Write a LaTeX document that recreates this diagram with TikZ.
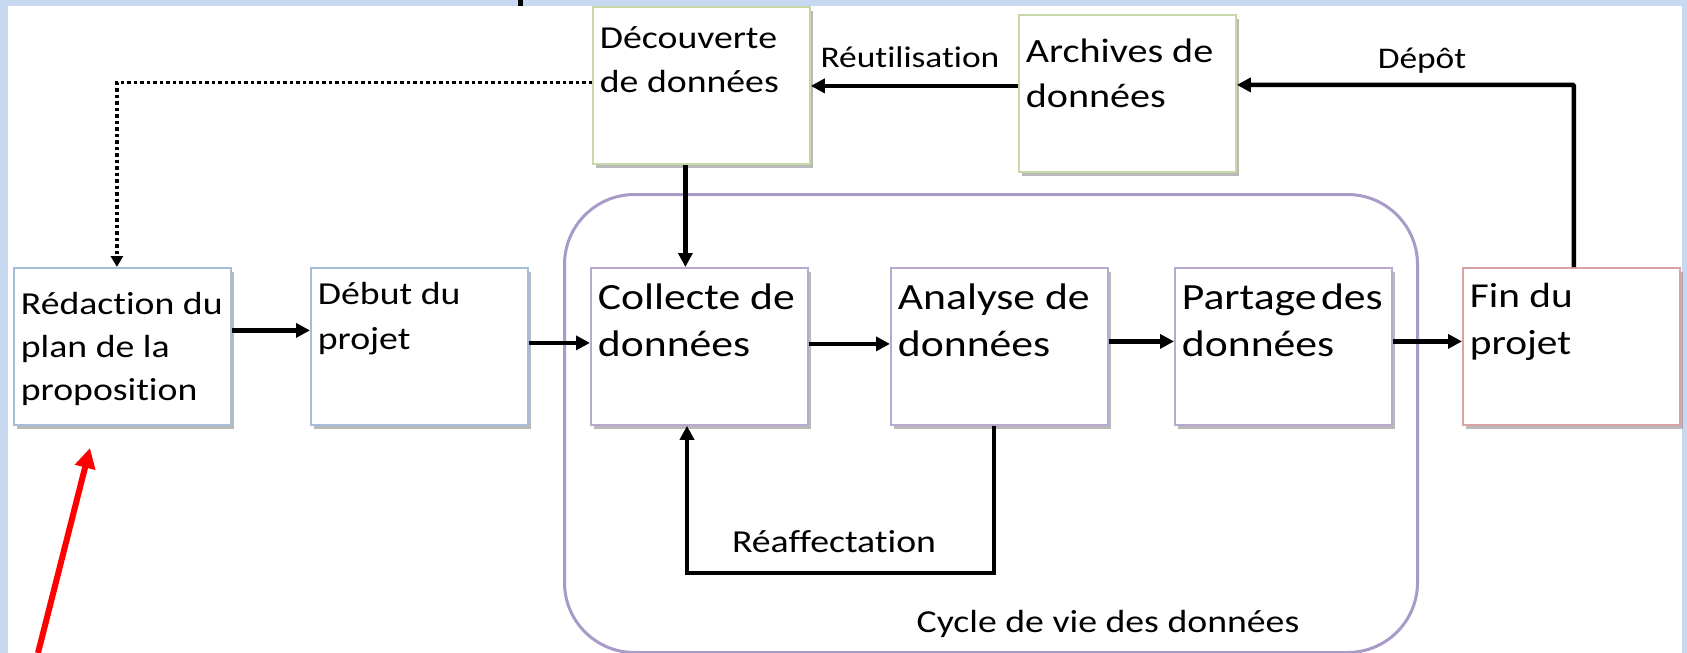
\documentclass[tikz,border=0pt]{standalone}
\usepackage{fontspec}
\setmainfont{Carlito}[FakeStretch=1.18,Ligatures=NoCommon]
\usetikzlibrary{arrows.meta,shadows}
\definecolor{bgblue}{HTML}{C6D9F1}
\definecolor{bblue}{HTML}{A6BCD8}
\definecolor{bpurp}{HTML}{B7A9CF}
\definecolor{bred}{HTML}{D9A3A3}
\definecolor{bgreen}{HTML}{C8D8A8}
\definecolor{cyc}{HTML}{A99BC8}
\newcommand\boxtxt[4]{\parbox[t][157pt][t]{203pt}{\fontsize{#1}{#2}\selectfont\raggedright\rule{0pt}{#3}#4}}
\tikzset{
  stepbox/.style={draw=#1, line width=1.8pt, fill=white, inner xsep=7pt, inner ysep=0pt,
    anchor=north west,
    drop shadow={shadow xshift=3pt, shadow yshift=-4pt, fill=black!50, opacity=.55}},
  arr/.style={line width=4.5pt, -{Triangle[length=14pt,width=14pt]}},
  lbl/.style={inner sep=0pt, anchor=base},
}
\begin{document}
\begin{tikzpicture}[x=1pt,y=-1pt]
\useasboundingbox (0,0) rectangle (1687,653);
\fill[bgblue] (0,0) rectangle (1687,653);
\fill[white] (8,6) rectangle (1682,653);
\fill[black] (518,0) rectangle (523,6);

% lifecycle frame
\node[draw=cyc, line width=3pt, rounded corners=70pt, minimum width=853pt,
  minimum height=458pt, anchor=north west, inner sep=0pt] (cycle) at (563,193) {};
\node[lbl] (cyclbl) at (1108,632) {\fontsize{32}{38}\selectfont Cycle de vie des données};

% boxes
\node[stepbox=bblue] (red) at (13,267) {\boxtxt{32}{43}{47pt}{Rédaction du\\plan de la\\proposition}};
\node[stepbox=bblue] (deb) at (310,267) {\boxtxt{32}{45}{37pt}{Début du\\projet}};
\node[stepbox=bpurp] (col) at (590,267) {\boxtxt{37}{47}{42pt}{Collecte de\\données}};
\node[stepbox=bpurp] (ana) at (890,267) {\boxtxt{37}{47}{42pt}{Analyse de\\données}};
\node[stepbox=bpurp] (par) at (1174,267) {\boxtxt{37}{47}{42pt}{\mbox{Partage\hspace{0.12em}des}\\données}};
\node[stepbox=bred] (fin) at (1462,267) {\boxtxt{35}{47}{40pt}{Fin du\\projet}};
\node[stepbox=bgreen] (dec) at (592,6) {\boxtxt{32}{44}{42pt}{Découverte\\de données}};
\node[stepbox=bgreen] (arc) at (1018,14) {\boxtxt{34}{45}{48pt}{Archives de\\données}};

% labels
\node[lbl] (reut) at (910,67) {\fontsize{30}{36}\selectfont Réutilisation};
\node[lbl] (depot) at (1422,68) {\fontsize{30}{36}\selectfont Dépôt};
\node[lbl] (reaf) at (834,552) {\fontsize{32}{38}\selectfont Réaffectation};

% connectors
\draw[arr] ([yshift=16pt]red.east) -- ([yshift=16pt]deb.west);
\draw[arr] ([yshift=3.5pt]deb.east) -- ([yshift=3.5pt]col.west);
\draw[arr] ([yshift=2.5pt]col.east) -- ([yshift=2.5pt]ana.west);
\draw[arr] ([yshift=5pt]ana.east) -- ([yshift=5pt]par.west);
\draw[arr] ([yshift=5pt]par.east) -- ([yshift=5pt]fin.west);
\draw[arr] ([xshift=-16pt]dec.south) -- ([xshift=-16pt]dec.south |- col.north);
\draw[arr] ([yshift=7.5pt]arc.west) -- ([yshift=7.5pt]arc.west -| dec.east);
\draw[arr, rounded corners=1pt] ([xshift=2.5pt]fin.north) |- ([yshift=8.5pt]arc.east);
\draw[line width=3.5pt, dash pattern=on 3.5pt off 3pt, -{Triangle[length=11pt,width=12pt]}]
  ([yshift=3pt]dec.west) -| ([xshift=-5.5pt]red.north);
\coordinate (loopc) at (687,573);
\draw[arr] ([xshift=-5.5pt]ana.south) |- (loopc) -- (loopc |- col.south);

% red pointer
\coordinate (rtail) at (38,653);
\coordinate (rtip) at (90,448);
\draw[red, line width=6pt, -{Triangle[length=20pt,width=20pt]}] (rtail) -- (rtip);
\end{tikzpicture}
\end{document}
